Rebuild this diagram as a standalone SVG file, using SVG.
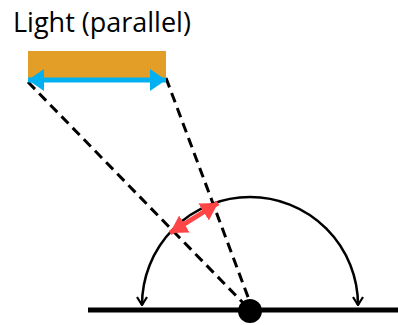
<svg xmlns="http://www.w3.org/2000/svg" width="398" height="325" viewBox="0 0 398 325">
<style>
.dash{stroke:#000;stroke-width:3;stroke-dasharray:10 6;fill:none}
.arc{stroke:#000;stroke-width:2.5;fill:none}
</style>
<defs>
<marker id="blue" viewBox="0 0 16 22" refX="16" refY="11" markerWidth="16" markerHeight="22" orient="auto-start-reverse" markerUnits="userSpaceOnUse"><path d="M0,0L16,11L0,22z" fill="#00B0F0"/></marker>
<marker id="red" viewBox="0 0 17 20" refX="17" refY="10" markerWidth="17" markerHeight="20" orient="auto-start-reverse" markerUnits="userSpaceOnUse"><path d="M0,0L17,10L0,20z" fill="#FF4545"/></marker>
<marker id="open" viewBox="0 0 10 12" refX="9" refY="6" markerWidth="10" markerHeight="12" orient="auto" markerUnits="userSpaceOnUse"><path d="M1,1L9,6L1,11" fill="none" stroke="#000" stroke-width="2.2"/></marker>
</defs>
<text x="13" y="32" font-family="'Open Sans','Liberation Sans',sans-serif" font-size="27" fill="#000">Light (parallel)</text>
<g id="light"><rect x="28" y="51" width="138" height="29" fill="#E39E27"/></g>
<g id="connectors">
<path class="dash" d="M28,82L250,310"/>
<path class="dash" d="M166,78L251,305"/>
<path class="arc" d="M250,197A108,108 0 0 1 358,305" marker-end="url(#open)"/>
<path class="arc" d="M250,197A108,108 0 0 0 142,305" marker-end="url(#open)"/>
<line x1="28" y1="80" x2="166" y2="80" stroke="#00B0F0" stroke-width="5" marker-start="url(#blue)" marker-end="url(#blue)"/>
<line x1="170" y1="233" x2="218" y2="203" stroke="#FF4545" stroke-width="5" marker-start="url(#red)" marker-end="url(#red)"/>
</g>
<g id="ground"><line x1="88" y1="310" x2="398" y2="310" stroke="#000" stroke-width="5"/></g>
<g id="point"><circle cx="250" cy="311" r="12" fill="#000"/></g>
</svg>
